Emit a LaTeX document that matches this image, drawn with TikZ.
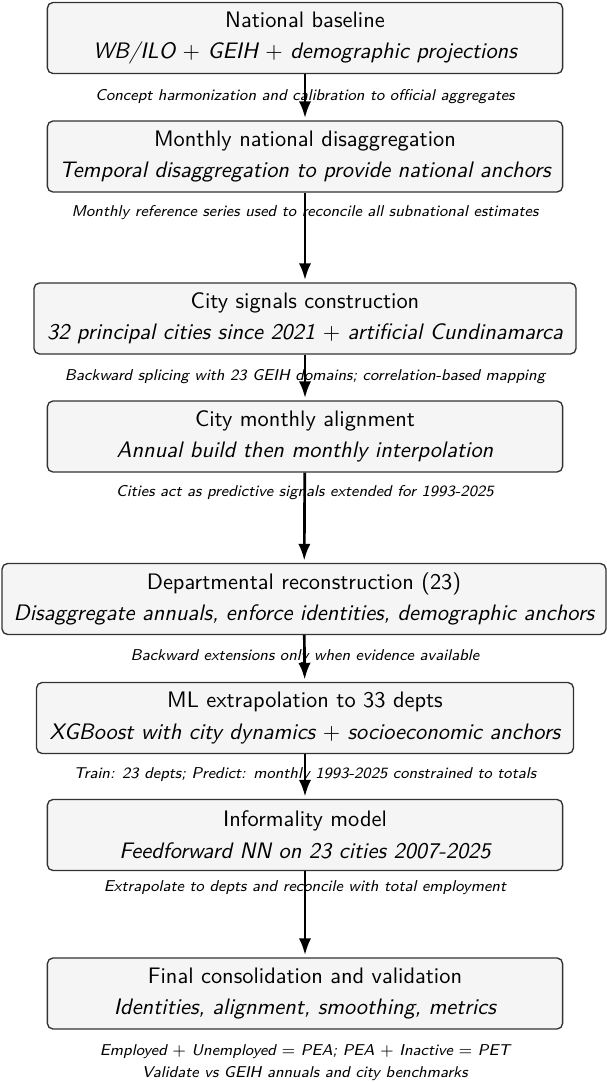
\documentclass[tikz,border=0pt]{standalone}
\usepackage{fontspec}
\usetikzlibrary{arrows.meta}
\begin{document}
\begin{tikzpicture}[x=0.4464pt,y=-0.4464pt,
  stage/.style={draw=black!80, line width=0.6pt, fill=black!4, rounded corners=2.5pt,
    align=center, font=\sffamily\normalsize, minimum height=31.7pt, inner xsep=4pt, inner ysep=3pt},
  note/.style={font=\sffamily\itshape\scriptsize, align=center, inner sep=0pt},
  flow/.style={-{Latex[length=7.5pt,width=5.5pt]}, line width=1.2pt, shorten >=1pt}]
\useasboundingbox (0,0) rectangle (607,1082);
\node[stage, minimum width=230pt] (b1) at (305,38) {National baseline\\[2pt] \itshape WB/ILO $+$ GEIH $+$ demographic projections};
\node[stage, minimum width=230pt] (b2) at (305,156.5) {Monthly national disaggregation\\[2pt] \itshape Temporal disaggregation to provide national anchors};
\node[stage, minimum width=242pt] (b3) at (305,318.5) {City signals construction\\[2pt] \itshape 32 principal cities since 2021 $+$ artificial Cundinamarca};
\node[stage, minimum width=230pt] (b4) at (305,436.5) {City monthly alignment\\[2pt] \itshape Annual build then monthly interpolation};
\node[stage, minimum width=269.6pt] (b5) at (304,599) {Departmental reconstruction (23)\\[2pt] \itshape Disaggregate annuals, enforce identities, demographic anchors};
\node[stage, minimum width=239.7pt] (b6) at (305,718) {ML extrapolation to 33 depts\\[2pt] \itshape XGBoost with city dynamics $+$ socioeconomic anchors};
\node[stage, minimum width=230pt] (b7) at (305,835) {Informality model\\[2pt] \itshape Feedforward NN on 23 cities 2007-2025};
\node[stage, minimum width=230pt] (b8) at (305,993.5) {Final consolidation and validation\\[2pt] \itshape Identities, alignment, smoothing, metrics};

\draw[flow] (b1) -- (b2);
\draw[flow] (b2) -- (b3);
\draw[flow] (b3) -- (b4);
\draw[flow] (b4) -- (b5);
\draw[flow] (b5) -- (b6);
\draw[flow] (b6) -- (b7);
\draw[flow] (b7) -- (b8);

\node[note] (l1) at (305,97) {Concept harmonization and calibration to official aggregates};
\node[note] (l2) at (305,213) {Monthly reference series used to reconcile all subnational estimates};
\node[note] (l3) at (305,377) {Backward splicing with 23 GEIH domains; correlation-based mapping};
\node[note] (l4) at (305,493) {Cities act as predictive signals extended for 1993-2025};
\node[note] (l5) at (305,657) {Backward extensions only when evidence available};
\node[note] (l6) at (305,775) {Train: 23 depts; Predict: monthly 1993-2025 constrained to totals};
\node[note] (l7) at (305,888) {Extrapolate to depts and reconcile with total employment};
\node[note] (l8) at (305,1062.5) {Employed $+$ Unemployed $=$ PEA; PEA $+$ Inactive $=$ PET\\[2pt] Validate vs GEIH annuals and city benchmarks};
\end{tikzpicture}
\end{document}
